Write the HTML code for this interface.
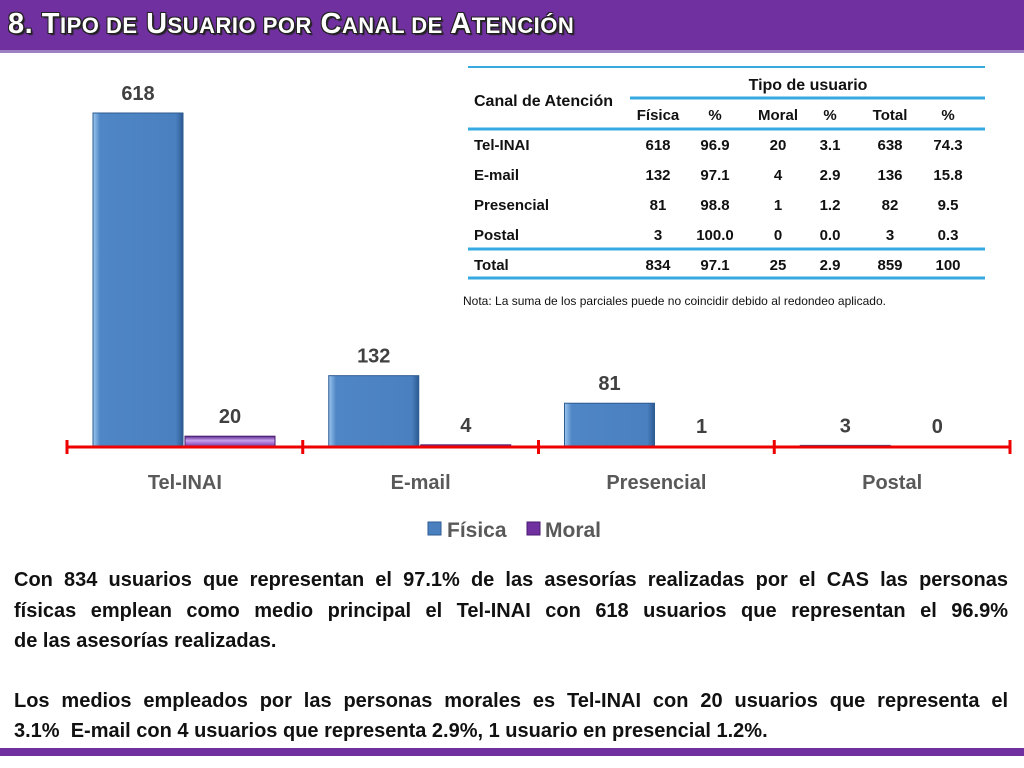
<!DOCTYPE html>
<html><head><meta charset="utf-8"><style>
body{margin:0;width:1024px;height:768px;background:#fff;position:relative;overflow:hidden;font-family:"Liberation Sans",sans-serif}
#title{position:absolute;left:0;top:0;width:1024px;height:50px;background:#7030a0;border-bottom:3px solid #9b7fc0}
#title span{position:absolute;left:8px;top:8px;color:#fff;font-weight:bold;font-size:29px;letter-spacing:0.5px;text-shadow:-1px -1px 0 #222,1px -1px 0 #222,-1px 1px 0 #222,1px 1px 0 #222,2px 2px 1px #222}
#title small{font-size:22px}
.line{position:absolute;left:14px;width:994px;font-weight:bold;font-size:20px;color:#111;white-space:nowrap;font-family:"Liberation Sans Narrow","Liberation Sans",sans-serif}
.j{text-align:justify;text-align-last:justify}
#botbar{position:absolute;left:0;top:748px;width:1024px;height:8px;background:#7030a0}
</style></head><body>
<div id="title"><span>8. T<small>IPO DE</small> U<small>SUARIO POR</small> C<small>ANAL DE</small> A<small>TENCIÓN</small></span></div>
<svg id="chart" width="1024" height="560" style="position:absolute;left:0;top:0" font-family="Liberation Sans, sans-serif">
<defs>
<linearGradient id="gb" x1="0" x2="1"><stop offset="0" stop-color="#9cc7ef"/><stop offset="0.08" stop-color="#4f86c6"/><stop offset="0.92" stop-color="#4a80c0"/><stop offset="1" stop-color="#2d5b93"/></linearGradient>
<linearGradient id="gp" x1="0" y1="0" x2="0" y2="1"><stop offset="0" stop-color="#5a2d8a"/><stop offset="0.4" stop-color="#c9a0f0"/><stop offset="1" stop-color="#7030a0"/></linearGradient>
</defs>
<g id="bars"></g>
<g id="axis"></g>
<g id="legend">
<rect x="428" y="522" width="13" height="13" fill="#4a80c0" stroke="#2d5b93"/>
<text x="447" y="537" font-size="21" font-weight="bold" fill="#595959">Física</text>
<text x="545" y="537" font-size="21" font-weight="bold" fill="#595959">Moral</text>
<rect x="527" y="522" width="13" height="13" fill="#7030a0" stroke="#4a1a70"/>
</g>
</svg>
<svg id="tbl" width="1024" height="320" style="position:absolute;left:0;top:0" font-family="Liberation Sans, sans-serif" font-weight="bold" font-size="15" fill="#111">
<line x1="468" y1="67" x2="985" y2="67" stroke="#36a9e1" stroke-width="2"/>
<line x1="630" y1="98" x2="985" y2="98" stroke="#36a9e1" stroke-width="3"/>
<line x1="468" y1="129" x2="985" y2="129" stroke="#36a9e1" stroke-width="3"/>
<line x1="468" y1="249" x2="985" y2="249" stroke="#36a9e1" stroke-width="3"/>
<line x1="468" y1="278" x2="985" y2="278" stroke="#36a9e1" stroke-width="3"/>
<text x="474" y="106" font-size="16">Canal de Atención</text>
<text x="808" y="90" text-anchor="middle" font-size="16">Tipo de usuario</text>
<g id="tbody"></g>
<text x="463" y="305" font-size="12" font-weight="normal">Nota: La suma de los parciales puede no coincidir debido al redondeo aplicado.</text>
</svg>
<div class="line j" style="top:569px">Con 834 usuarios que representan el 97.1% de las asesorías realizadas por el CAS las personas</div>
<div class="line j" style="top:600px">físicas emplean como medio principal el Tel-INAI con 618 usuarios que representan el 96.9%</div>
<div class="line" style="top:630px">de las asesorías realizadas.</div>
<div class="line j" style="top:690px">Los medios empleados por las personas morales es Tel-INAI con 20 usuarios que representa el</div>
<div class="line" style="top:720px">3.1%&nbsp; E-mail con 4 usuarios que representa 2.9%, 1 usuario en presencial 1.2%.</div>
<div id="botbar"></div>
<script>
const categories=["Tel-INAI","E-mail","Presencial","Postal"];
const fisica=[618,132,81,3];
const moral=[20,4,1,0];
const tableRows=["Tel-INAI","E-mail","Presencial","Postal","Total"];
const tFis=["618","132","81","3","834"];
const tFisP=["96.9","97.1","98.8","100.0","97.1"];
const tMor=["20","4","1","0","25"];
const tMorP=["3.1","2.9","1.2","0.0","2.9"];
const tTot=["638","136","82","3","859"];
const tTotP=["74.3","15.8","9.5","0.3","100"];
const NS="http://www.w3.org/2000/svg";
const x0=67,x1=1010,base=447,scale=334/618;
const cw=(x1-x0)/categories.length;
const yv=v=>base-v*scale;
function mk(tag,attrs,parent){const e=document.createElementNS(NS,tag);for(const k in attrs)e.setAttribute(k,attrs[k]);parent.appendChild(e);return e;}
const bars=document.getElementById('bars'),axis=document.getElementById('axis');
categories.forEach((c,i)=>{
  const cx=x0+cw*i;
  const bx=cx+26, bw=90;
  const h1=fisica[i]*scale;
  const r1=mk('rect',{x:bx,y:yv(fisica[i]),width:bw,height:h1,fill:'url(#gb)',stroke:'#2d5b93','stroke-width':1},bars);
  
  
  const t1=mk('text',{x:bx+bw/2,y:yv(fisica[i])-13,'text-anchor':'middle','font-size':20,'font-weight':'bold',fill:'#404040'},bars);
  t1.textContent=fisica[i];
  
  
  const h2=moral[i]*scale;
  const r2=mk('rect',{x:bx+bw+2,y:yv(moral[i]),width:bw,height:Math.max(h2,1),fill:'url(#gp)',stroke:'#4a1a70','stroke-width':1},bars);
  
  
  const t2=mk('text',{x:bx+bw+2+bw/2,y:Math.min(yv(moral[i])-13,base-14),'text-anchor':'middle','font-size':20,'font-weight':'bold',fill:'#404040'},bars);
  t2.textContent=moral[i];
  
  
  const cl=mk('text',{x:cx+cw/2,y:489,'text-anchor':'middle','font-size':20,'font-weight':'bold',fill:'#595959'},axis);
  cl.textContent=c;
  
  
});
const al=mk('line',{x1:x0,y1:base,x2:x1,y2:base,stroke:'#e00','stroke-width':3},axis);


for(let i=0;i<=categories.length;i++){
  const tk=mk('line',{x1:x0+cw*i,y1:base-7,x2:x0+cw*i,y2:base+7,stroke:'#e00','stroke-width':3},axis);
  
  
}
const tb=document.getElementById('tbody');
const colX=[658,715,778,830,890,948];
const hdr=["Física","%","Moral","%","Total","%"];
hdr.forEach((h,j)=>{const t=mk('text',{x:colX[j],y:120,'text-anchor':'middle'},tb);t.textContent=h;});
tableRows.forEach((r,i)=>{
  const y=i<4?150+30*i:270;
  const t=mk('text',{x:474,y:y},tb);t.textContent=r;
  
  
  [tFis,tFisP,tMor,tMorP,tTot,tTotP].forEach((arr,j)=>{const c=mk('text',{x:colX[j],y:y,'text-anchor':'middle'},tb);c.textContent=arr[i];});
});
</script>
</body></html>
